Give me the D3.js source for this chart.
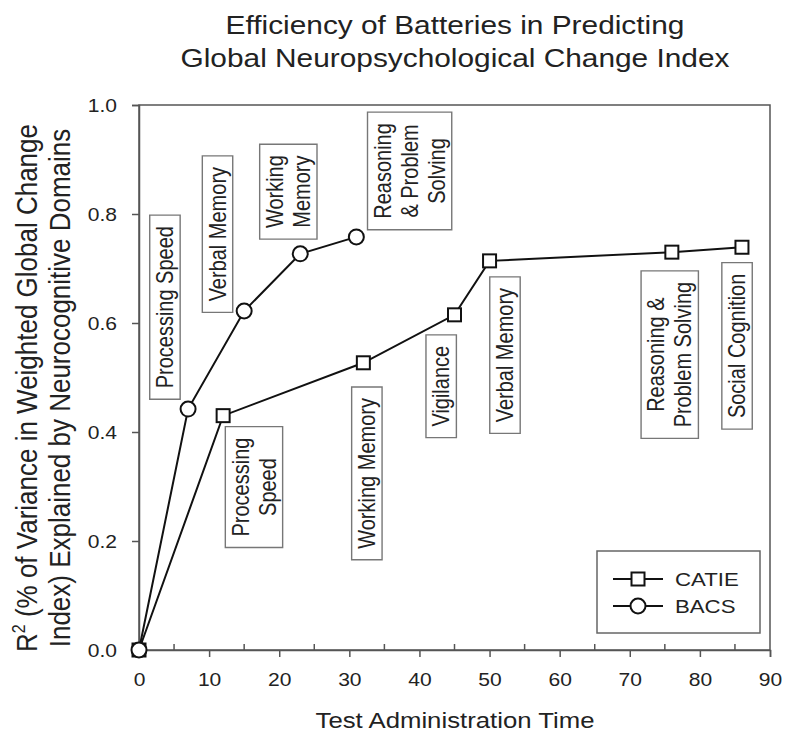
<!DOCTYPE html>
<html>
<head>
<meta charset="utf-8">
<script src="https://cdn.jsdelivr.net/npm/d3@7"></script>
<style>
  body { margin: 0; background: #fff; }
  text { font-family: "Liberation Sans", Arial, sans-serif; fill: #222; }
</style>
</head>
<body>
<svg id="chart" width="800" height="747"></svg>
<script>
// data
const catieTime = [0, 12, 32, 45, 50, 76, 86];
const catieR2 = [0, 0.43, 0.527, 0.615, 0.714, 0.73, 0.739];
const bacsTime = [0, 7, 15, 23, 31];
const bacsR2 = [0, 0.442, 0.622, 0.727, 0.758];

// domain labels: lines, anchor (time, R2) of box centre
const catieLabels = [
  {lines: ['Processing', 'Speed'], t: 16.4, r: 0.299},
  {lines: ['Working Memory'], t: 32.5, r: 0.324},
  {lines: ['Vigilance'], t: 43.1, r: 0.484},
  {lines: ['Verbal Memory'], t: 52.2, r: 0.541},
  {lines: ['Reasoning &', 'Problem Solving'], t: 75.7, r: 0.542},
  {lines: ['Social Cognition'], t: 85.3, r: 0.558}
];
const bacsLabels = [
  {lines: ['Processing Speed'], t: 3.7, r: 0.629},
  {lines: ['Verbal Memory'], t: 11.2, r: 0.763},
  {lines: ['Working', 'Memory'], t: 21.3, r: 0.841},
  {lines: ['Reasoning', '& Problem', 'Solving'], t: 38.6, r: 0.879}
];

const xTicks = d3.range(0, 91, 10);
const xMinor = d3.range(5, 90, 10);
const yTicks = [0, 0.2, 0.4, 0.6, 0.8, 1.0];

// the original's type is a little wider than it is tall
const sx = 1.17;

const margin = {left: 139, right: 30, top: 105, bottom: 97};
const width = 800 - margin.left - margin.right;
const height = 747 - margin.top - margin.bottom;

const svg = d3.select('#chart');
const g = svg.append('g').attr('transform', `translate(${margin.left},${margin.top})`);

const x = d3.scaleLinear().domain([0, 90]).range([0, width]);
const y = d3.scaleLinear().domain([0, 1]).range([height, 0]);

const axisColor = '#555';

// frame
g.append('rect').attr('width', width).attr('height', height)
  .attr('fill', 'none').attr('stroke', axisColor).attr('stroke-width', 1.5);

// x axis
const xAxis = g.append('g').attr('transform', `translate(0,${height})`)
  .call(d3.axisBottom(x).tickValues(xTicks).tickSize(7).tickFormat(d3.format('d')));
xAxis.selectAll('.tick line').attr('stroke', axisColor).attr('stroke-width', 1.5);
xAxis.select('.domain').attr('stroke', axisColor).attr('stroke-width', 1.5);
xAxis.selectAll('.tick text').attr('y', 0).attr('dy', 0)
  .attr('transform', `translate(0,36) scale(${sx},1)`)
  .style('font-size', '18px').attr('fill', '#222');
g.append('g').selectAll('line').data(xMinor).join('line')
  .attr('x1', d => x(d)).attr('x2', d => x(d))
  .attr('y1', height).attr('y2', height - 6)
  .attr('stroke', axisColor).attr('stroke-width', 1.5);

// y axis
const yAxis = g.append('g')
  .call(d3.axisLeft(y).tickValues(yTicks).tickSize(7).tickFormat(d3.format('.1f')));
yAxis.selectAll('.tick line').attr('stroke', axisColor).attr('stroke-width', 1.5);
yAxis.select('.domain').attr('stroke', axisColor).attr('stroke-width', 1.5);
yAxis.selectAll('.tick text').attr('x', 0).attr('dy', 0)
  .attr('transform', `translate(-22,6.5) scale(${sx},1)`)
  .style('font-size', '18px').attr('fill', '#222');

// titles
[['Efficiency of Batteries in Predicting', 34], ['Global Neuropsychological Change Index', 67]]
  .forEach(([s, by]) => {
    svg.append('text').attr('text-anchor', 'middle')
      .attr('transform', `translate(455,${by}) scale(${sx},1)`)
      .style('font-size', '25.5px').text(s);
  });

svg.append('text').attr('text-anchor', 'middle')
  .attr('transform', `translate(455,728) scale(${sx},1)`)
  .style('font-size', '22px').text('Test Administration Time');

const yl = svg.append('text').attr('text-anchor', 'middle')
  .attr('transform', `translate(37,388) scale(${sx},1) rotate(-90)`)
  .style('font-size', '26px');
const l1 = yl.append('tspan').attr('x', 0).attr('y', 0);
l1.append('tspan').text('R');
l1.append('tspan').attr('dy', -10).style('font-size', '16px').text('2');
l1.append('tspan').attr('dy', 10).text(' (% of Variance in Weighted Global Change');
yl.append('tspan').attr('x', 0).attr('y', 33 / sx).text('Index) Explained by Neurocognitive Domains');

// domain label boxes
function drawLabels(labels) {
  const lineH = 23;
  labels.forEach(lb => {
    const cx = x(lb.t), cy = y(lb.r);
    const lg = g.append('g').attr('transform', `translate(${cx},${cy}) scale(${sx},1) rotate(-90)`);
    const n = lb.lines.length;
    const txt = lg.append('text').attr('text-anchor', 'middle').style('font-size', '20px');
    lb.lines.forEach((s, i) => {
      txt.append('tspan').attr('x', 0).attr('y', (i - (n - 1) / 2) * lineH + 7).text(s);
    });
    const bb = txt.node().getBBox();
    const bh = (n - 1) * lineH + 26;
    lg.insert('rect', 'text')
      .attr('x', bb.x - 11).attr('y', -bh / 2)
      .attr('width', bb.width + 22).attr('height', bh)
      .attr('fill', '#fff').attr('stroke', '#777').attr('stroke-width', 1.4)
      .attr('vector-effect', 'non-scaling-stroke');
  });
}
drawLabels(catieLabels);
drawLabels(bacsLabels);

// lines
const catie = catieTime.map((t, i) => ({t, r: catieR2[i]}));
const bacs = bacsTime.map((t, i) => ({t, r: bacsR2[i]}));
const line = d3.line().x(d => x(d.t)).y(d => y(d.r));

g.append('path').datum(catie).attr('d', line).attr('fill', 'none').attr('stroke', '#111').attr('stroke-width', 2);
g.append('path').datum(bacs).attr('d', line).attr('fill', 'none').attr('stroke', '#111').attr('stroke-width', 2);

const sq = 13;
g.selectAll('.sq').data(catie).join('rect').attr('class', 'sq')
  .attr('x', d => x(d.t) - sq / 2).attr('y', d => y(d.r) - sq / 2)
  .attr('width', sq).attr('height', sq)
  .attr('fill', '#fff').attr('stroke', '#111').attr('stroke-width', 2);
g.selectAll('.ci').data(bacs).join('circle').attr('class', 'ci')
  .attr('cx', d => x(d.t)).attr('cy', d => y(d.r)).attr('r', 7.5)
  .attr('fill', '#fff').attr('stroke', '#111').attr('stroke-width', 2);

// legend
const leg = svg.append('g').attr('transform', 'translate(597,551)');
leg.append('rect').attr('width', 163).attr('height', 82)
  .attr('fill', '#fff').attr('stroke', '#666').attr('stroke-width', 1.5);
const legItems = [{name: 'CATIE', shape: 'square', y: 28}, {name: 'BACS', shape: 'circle', y: 55}];
legItems.forEach(it => {
  leg.append('line').attr('x1', 16).attr('x2', 66).attr('y1', it.y).attr('y2', it.y)
    .attr('stroke', '#111').attr('stroke-width', 2);
  if (it.shape === 'square') {
    leg.append('rect').attr('x', 41 - sq / 2).attr('y', it.y - sq / 2).attr('width', sq).attr('height', sq)
      .attr('fill', '#fff').attr('stroke', '#111').attr('stroke-width', 2);
  } else {
    leg.append('circle').attr('cx', 41).attr('cy', it.y).attr('r', 7.5)
      .attr('fill', '#fff').attr('stroke', '#111').attr('stroke-width', 2);
  }
  leg.append('text').attr('transform', `translate(78,${it.y + 7}) scale(${sx},1)`)
    .style('font-size', '19px').text(it.name);
});
</script>
</body>
</html>
